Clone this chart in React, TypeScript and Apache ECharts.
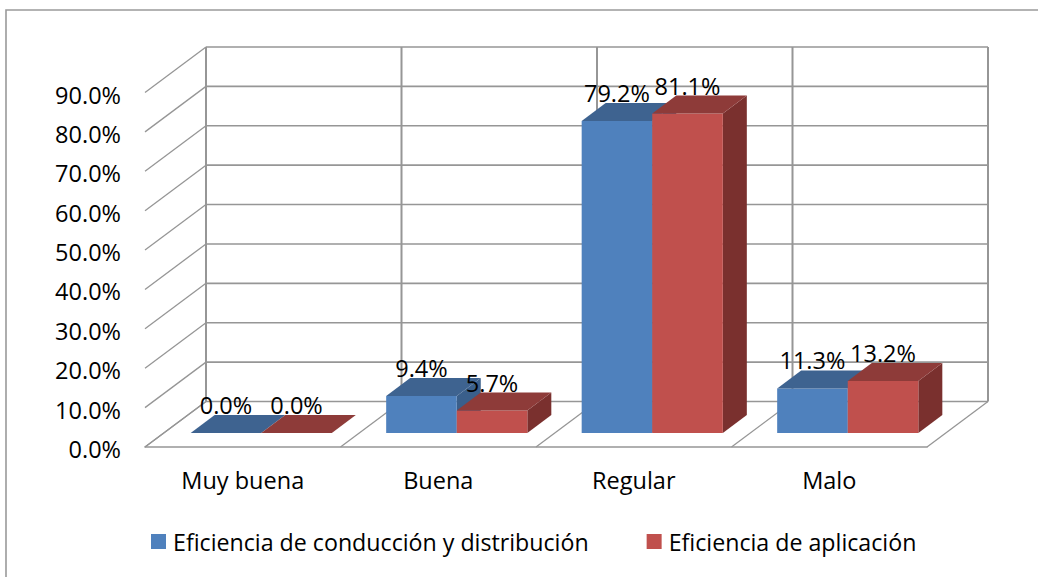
import React, { useEffect, useRef } from "react";
import * as echarts from "echarts";

const categories = ["Muy buena", "Buena", "Regular", "Malo"];
const seriesNames = ["Eficiencia de conducción y distribución", "Eficiencia de aplicación"];
const conduccion = [0.0, 9.4, 79.2, 11.3];
const aplicacion = [0.0, 5.7, 81.1, 13.2];
const yTicks = [0, 10, 20, 30, 40, 50, 60, 70, 80, 90];

const FONT = "Open Sans";
const GRID = "#969696";
const WALL_DX = 61;
const WALL_DY = -45.5;
const BAR_INSET_DX = 18.5;
const BAR_INSET_DY = -14;
const BAR_DX = 24;
const BAR_DY = -18;
const BAR_RATIO = 0.361;

const line = (x1: number, y1: number, x2: number, y2: number, w = 1.6) => ({
  type: "line",
  shape: { x1, y1, x2, y2 },
  style: { stroke: GRID, lineWidth: w },
});

const poly = (points: number[][], fill: string) => ({
  type: "polygon",
  shape: { points },
  style: { fill },
});

function tickLines(_: any, api: any) {
  const v = api.value(1);
  const [x0, y] = api.coord([0, v]);
  const half = api.size([1, 0])[0] / 2;
  const left = x0 - half;
  const right = left + half * 8;
  const children: any[] = [
    line(left, y, left + WALL_DX, y + WALL_DY, 1.3),
    line(left + WALL_DX, y + WALL_DY, right + WALL_DX, y + WALL_DY),
  ];
  return { type: "group", children };
}

function boundaryLines(_: any, api: any) {
  const i = api.value(0);
  const [cx, y0] = api.coord([i, 0]);
  const [, yTop] = api.coord([i, yTicks[yTicks.length - 1]]);
  const half = api.size([1, 0])[0] / 2;
  const children: any[] = [];
  const draw = (x: number) => {
    children.push(line(x, y0, x + WALL_DX, y0 + WALL_DY, 1.3));
    children.push(line(x + WALL_DX, y0 + WALL_DY, x + WALL_DX, yTop + WALL_DY, 2));
  };
  draw(cx - half);
  if (i === categories.length - 1) draw(cx + half);
  return { type: "group", children };
}

const barRenderer = (side: number, front: string, top: string, dark: string) => (_: any, api: any) => {
  const i = api.value(0);
  const v = api.value(1);
  const [cx, y0] = api.coord([i, 0]);
  const [, yv] = api.coord([i, v]);
  const w = api.size([1, 0])[0] * BAR_RATIO;
  const x1 = cx + BAR_INSET_DX + (side === 0 ? -w : 0);
  const x2 = x1 + w;
  const b = y0 + BAR_INSET_DY;
  const t = yv + BAR_INSET_DY;
  const children: any[] = [];
  if (b - t > 0.01) {
    children.push(poly([[x2, b], [x2 + BAR_DX, b + BAR_DY], [x2 + BAR_DX, t + BAR_DY], [x2, t]], dark));
    children.push(poly([[x1, t], [x2, t], [x2, b], [x1, b]], front));
  }
  children.push(poly([[x1, t], [x2, t], [x2 + BAR_DX, t + BAR_DY], [x1 + BAR_DX, t + BAR_DY]], top));
  return { type: "group", children };
};

const labelRenderer = (side: number) => (_: any, api: any) => {
  const i = api.value(0);
  const v = api.value(1);
  const [cx, y0] = api.coord([i, 0]);
  const [, yv] = api.coord([i, v]);
  const w = api.size([1, 0])[0] * BAR_RATIO;
  const x = cx + BAR_INSET_DX + (side === 0 ? -w / 2 : w / 2);
  return {
    type: "text",
    style: {
      text: v.toFixed(1) + "%",
      x,
      y: yv + BAR_INSET_DY - 28,
      align: "center",
      verticalAlign: "middle",
      fontFamily: FONT,
      fontSize: 23.5,
      fill: "#000",
    },
  };
};

export default function App() {
  const ref = useRef<HTMLDivElement>(null);
  useEffect(() => {
    document.body.style.margin = "0";
    document.body.style.overflow = "hidden";
    const chart = echarts.init(ref.current!, undefined, { renderer: "svg" });
    const toData = (arr: number[]) => arr.map((v, i) => [i, v]);
    const base = { type: "custom", coordinateSystem: "cartesian2d", clip: false, silent: true, encode: { x: 0, y: 1 } };
    chart.setOption({
      animation: false,
      backgroundColor: "#fff",
      grid: { left: 145, top: 92.5, width: 782, height: 354.5, containLabel: false },
      xAxis: {
        type: "category",
        data: categories,
        axisLine: { show: true, lineStyle: { color: GRID, width: 1.6 } },
        axisTick: { show: false },
        splitLine: { show: false },
        axisLabel: { color: "#000", fontFamily: FONT, fontSize: 23.5, margin: 21 },
      },
      yAxis: {
        type: "value",
        min: 0,
        max: 90,
        interval: 10,
        axisLine: { show: false },
        axisTick: { show: false },
        splitLine: { show: false },
        axisLabel: {
          color: "#000",
          fontFamily: FONT,
          fontSize: 23.5,
          margin: 24,
          verticalAlign: "top",
          lineHeight: 4,
          formatter: (v: number) => v.toFixed(1) + "%",
        },
      },
      legend: {
        data: seriesNames.map((name, i) => ({ name, icon: "rect", itemStyle: { color: i === 0 ? "#4F81BD" : "#C0504D" } })),
        left: 146,
        top: 525,
        itemWidth: 15,
        itemHeight: 15,
        itemGap: 58,
        textStyle: { color: "#000", fontFamily: FONT, fontSize: 23.2, padding: [0, 0, 0, 2] },
      },
      graphic: [
        {
          type: "polyline",
          silent: true,
          shape: { points: [[6, 577], [6, 10], [1038, 10]] },
          style: { stroke: "#9a9a9a", lineWidth: 1.6, fill: "none" },
        },
      ],
      series: [
        { ...base, name: "ticks", data: yTicks.map((v) => [0, v]), renderItem: tickLines },
        { ...base, name: "bounds", data: categories.map((_, i) => [i, 0]), renderItem: boundaryLines },
        { ...base, name: seriesNames[0], data: toData(conduccion), itemStyle: { color: "#4F81BD" }, renderItem: barRenderer(0, "#4F81BD", "#3E6390", "#3A5F8B") },
        { ...base, name: seriesNames[1], data: toData(aplicacion), itemStyle: { color: "#C0504D" }, renderItem: barRenderer(1, "#C0504D", "#8E3B39", "#7A302E") },
        { ...base, name: "labels0", data: toData(conduccion), renderItem: labelRenderer(0) },
        { ...base, name: "labels1", data: toData(aplicacion), renderItem: labelRenderer(1) },
      ],
    });
    return () => chart.dispose();
  }, []);
  return <div ref={ref} style={{ width: 1038, height: 577 }} />;
}
